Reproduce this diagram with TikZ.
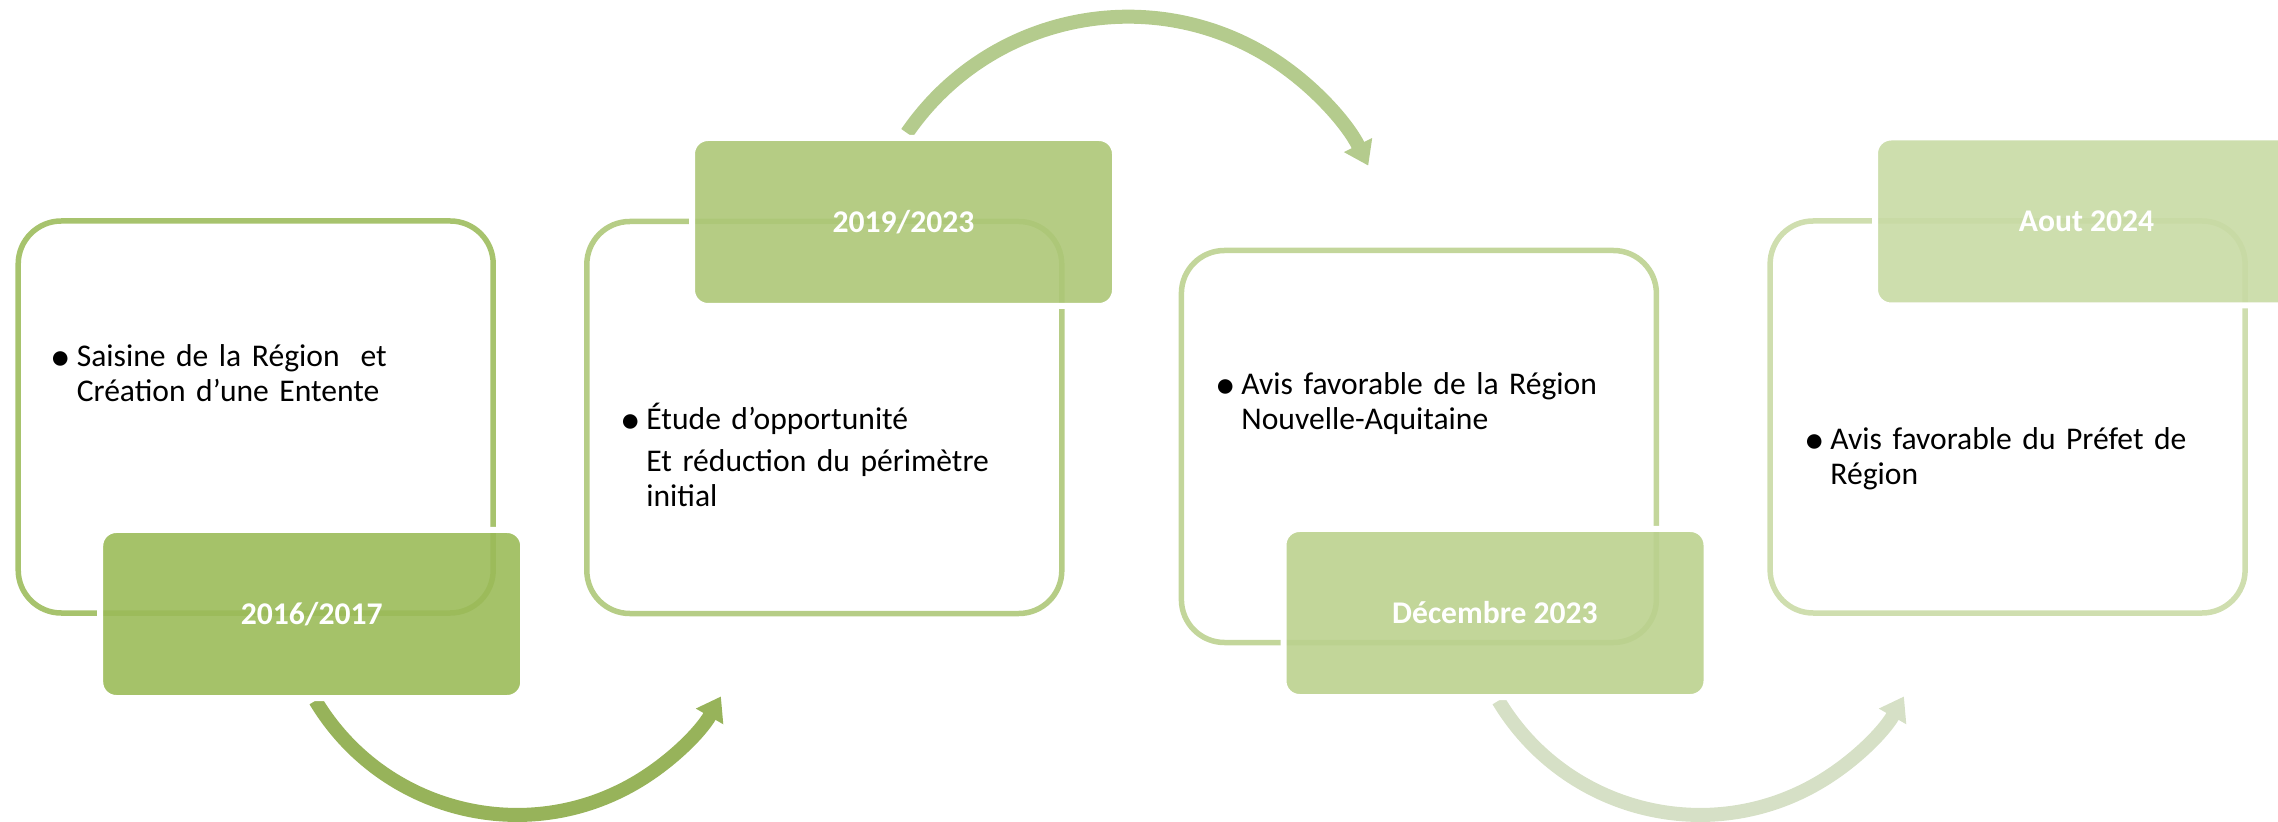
\documentclass[tikz,border=0pt]{standalone}
\usepackage{fontspec}
\setmainfont{Carlito}
\usepackage{graphicx}
\usepackage{xcolor}
\usepackage{tikz}
\usetikzlibrary{arrows.meta}

\definecolor{olive}{HTML}{9BBB59}
\definecolor{arrowA}{HTML}{97B35A}
\definecolor{arrowB}{HTML}{B4CB8D}
\definecolor{arrowC}{HTML}{D6E0C6}
\newcommand{\txtsize}{\fontsize{15.8}{17.5}\selectfont}
\newcommand{\puce}{\makebox[10.5pt][l]{\hspace{-2.5pt}\raisebox{-1.8pt}{\scalebox{1.3}{\textbullet}}}}
\newcommand{\retrait}{\hspace*{10.5pt}}

\begin{document}
\begin{tikzpicture}[x=0.5pt,y=-0.5pt,>={Triangle[width=15pt,length=11.5pt]},font=\txtsize]
\tikzstyle{frame}=[draw,rounded corners=21.5pt,line width=2.75pt,inner sep=0pt,minimum width=237.5pt,minimum height=196pt]
\tikzstyle{date}=[rounded corners=8pt,draw=white,line width=3pt,fill opacity=0.9,text opacity=1,text=white,font=\txtsize\bfseries,inner sep=0pt,minimum width=211.5pt,minimum height=84pt]
\tikzstyle{item}=[anchor=base west,inner sep=0pt,text width=230pt,align=left]
\tikzstyle{arrow}=[draw,line width=7pt,->]
\useasboundingbox (0,0) rectangle (2278,822);
% cadres
\foreach \pos/\col/\name in {{(255.7,417)/olive!88/b1},{(824.3,417.5)/olive!73/b2},{(1418.9,446.5)/olive!60/b3},{(2007.6,417)/olive!48/b4}}
  \node[frame,draw=\col] (\name) at \pos {};
% fleches
\coordinate (a1) at (315.5,700.7);
\coordinate (a2) at (907,133);
\coordinate (a3) at (1498.5,700.7);
\path[arrow,draw=arrowA] (a1) arc[start angle=149.1,end angle=29.7,radius=234.8];
\path[arrow,draw=arrowB] (a2) arc[start angle=-145.5,end angle=-26.4,radius=268.2];
\path[arrow,draw=arrowC] (a3) arc[start angle=149.1,end angle=29.7,radius=234.8];
% dates
\node[date,fill=olive] (d1) at (311.7,614) {2016/2017};
\node[date,fill=olive!82] (d2) at (903.5,222) {2019/2023};
\node[date,fill=olive!68] (d3) at (1495,613) {Décembre 2023};
\node[date,fill=olive!55] (d4) at (2086.5,221.5) {Aout 2024};
% textes
\node[item] (t1) at (55.4,367) {\puce Saisine de la Région~ et\\\retrait Création d’une Entente};
\node[item] (t2) at (625,430) {\puce Étude d’opportunité\\[3.5pt]\retrait Et réduction du périmètre\\\retrait initial};
\node[item] (t3) at (1220,395) {\puce Avis favorable de la Région\\\retrait Nouvelle-Aquitaine};
\node[item] (t4) at (1809,450) {\puce Avis favorable du Préfet de\\\retrait Région};
\end{tikzpicture}
\end{document}
